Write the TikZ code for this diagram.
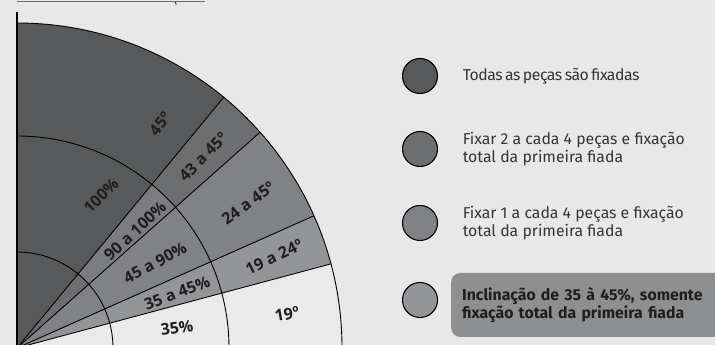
\documentclass[tikz,border=0pt]{standalone}
\usepackage{fontspec}
\setmainfont{Open Sans}
\newfontfamily\legfont{Fira Sans}
\usetikzlibrary{positioning}
\definecolor{bggray}{HTML}{E8E8E8}
\definecolor{fixall}{HTML}{58595B}
\definecolor{fixtwo}{HTML}{6D6E70}
\definecolor{fixmid}{HTML}{7B7C7F}
\definecolor{fixone}{HTML}{808285}
\definecolor{fixrow}{HTML}{939598}
\definecolor{fixnone}{HTML}{EAEAEA}
\definecolor{notegray}{HTML}{8E8F91}
\definecolor{txtdark}{HTML}{1E1E1E}

\begin{document}
\begin{tikzpicture}[
    x=1pt, y=1pt,
    ring/.style={line width=0.9pt, black},
    lbl/.style={font=\bfseries\fontsize{16}{18}\selectfont, text=txtdark, inner sep=0pt},
    legdot/.style={
        circle, draw=black, fill=#1, line width=1.1pt,
        minimum size=35pt, inner sep=0pt
    },
    legtext/.style={
        font=\legfont\fontsize{15.8}{17.5}\selectfont, text=txtdark!90,
        align=left, inner sep=0pt
    },
    notebox/.style={
        fill=notegray, rounded corners=9pt, minimum height=64pt,
        text width=270pt, inner xsep=11pt, align=left, text=txtdark,
        font=\legfont\bfseries\fontsize{15.8}{18.5}\selectfont
    },
]
\useasboundingbox (0,0) rectangle (715,345);
\fill[bggray] (0,0) rectangle (715,345);

% === Quarter disc ===
\begin{scope}
\clip (0,0) rectangle (715,345);
\begin{scope}[shift={(17,-3)}]
% sectors: outer ring, middle ring, inner ring
\foreach \a/\b/\cout/\cmid/\cin in {50.5/90/fixall/fixall/fixall,
        41.6/50.5/fixtwo/fixmid/fixtwo, 24/41.6/fixone/fixone/fixone,
        15/24/fixrow/fixrow/fixrow, 0/15/fixnone/fixnone/fixnone}{
    \fill[\cout] (0,0) -- (\a:325) arc[start angle=\a, end angle=\b, radius=325] -- cycle;
    \fill[\cmid] (0,0) -- (\a:212) arc[start angle=\a, end angle=\b, radius=212] -- cycle;
    \fill[\cin] (0,0) -- (\a:96) arc[start angle=\a, end angle=\b, radius=96] -- cycle;
}
\foreach \r in {96,212,325}
    \draw[ring] (\r,0) arc[start angle=0, end angle=90, radius=\r];
\foreach \a in {15,24,41.6,50.5}
    \draw[ring] (0,0) -- (\a:325);
\end{scope}
\end{scope}

% axes
\draw[line width=2pt] (17,0) -- (17,333);
\draw[fixtwo, line width=1pt] (17,343) -- (205,343);
\draw[black, line width=0.8pt] (175.5,343) -- (176.2,340.5);

% Outer ring labels
\node[lbl, rotate=52] (degA) at (160,221) {45º};
\node[lbl, rotate=45] (degB) at (203,188) {43 a 45º};
\node[lbl, rotate=36] (degC) at (248,142) {24 a 45º};
\node[lbl, rotate=25] (degD) at (274,88) {19 a 24º};
\node[lbl, rotate=10] (degE) at (287,31) {19º};

% Middle ring labels
\node[lbl, rotate=45] (pctA) at (101,149) {100\%};
\node[lbl, rotate=43] (pctB) at (135,114) {90 a 100\%};
\node[lbl, rotate=28] (pctC) at (155,82) {45 a 90\%};
\node[lbl, rotate=21] (pctD) at (177,52) {35 a 45\%};
\node[lbl, rotate=8] (pctE) at (177,17) {35\%};

% === Legend ===
\node[legdot=fixall] (dotall) at (420,269) {};
\node[legdot=fixtwo] (dottwo) at (420,196) {};
\node[legdot=fixone] (dotone) at (420,122) {};
\node[legdot=fixrow] (dotrow) at (420,45) {};

\node[legtext, right=24.5pt of dotall] (txtall) {\addfontfeatures{LetterSpace=-3}\spaceskip=2.5pt Todas as peças são fixadas};
\node[legtext, right=24.5pt of dottwo] (txttwo) {Fixar 2 a cada 4 peças e fixação\\total da primeira fiada};
\node[legtext, right=24.5pt of dotone] (txtone) {Fixar 1 a cada 4 peças e fixação\\total da primeira fiada};
\node[notebox, anchor=west] (txtrow) at (451,40) {Inclinação de 35 à 45\%, somente\\fixação total da primeira fiada};

\end{tikzpicture}
\end{document}
